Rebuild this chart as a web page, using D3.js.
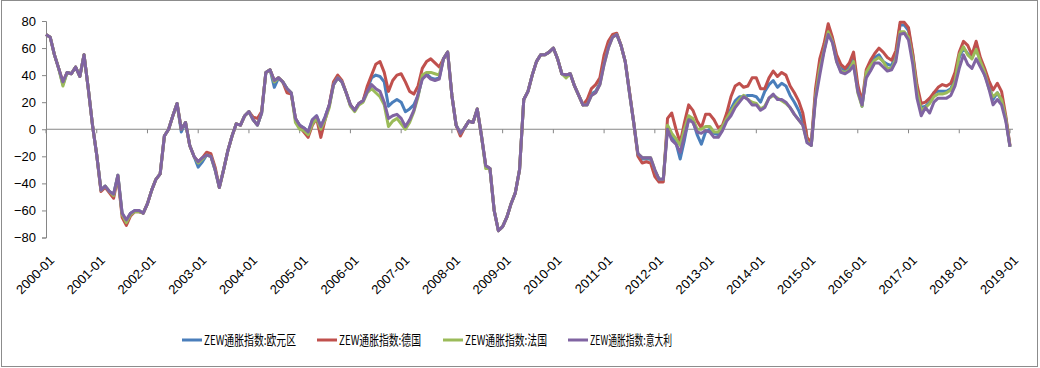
<!DOCTYPE html>
<html>
<head>
<meta charset="utf-8">
<style>
    body { margin: 0; background: #fff; }
    .axis text { font-family: 'Liberation Sans', Arial, sans-serif; font-size: 13px; fill: #000; }
    .axis path, .axis line { stroke: #868686; }
    .line { fill: none; stroke-width: 3px; stroke-linejoin: round; }
    .legend text { font-family: 'Noto Sans CJK SC', sans-serif; font-size: 13.5px; fill: #000; }
</style>
</head>
<body>
<svg id="chart" width="1040" height="368"></svg>
<script src="https://d3js.org/d3.v7.min.js"></script>
<script>
    // monthly 2000-01 .. 2019-01
    var xLabels = ['2000-01','2001-01','2002-01','2003-01','2004-01','2005-01','2006-01','2007-01','2008-01','2009-01',
                   '2010-01','2011-01','2012-01','2013-01','2014-01','2015-01','2016-01','2017-01','2018-01','2019-01'];
    var yTicks = [-80, -60, -40, -20, 0, 20, 40, 60, 80];
    var names = ['ZEW通胀指数:欧元区', 'ZEW通胀指数:德国', 'ZEW通胀指数:法国', 'ZEW通胀指数:意大利'];
    var colors = ['#4a7ebb', '#c0504d', '#9bbb59', '#8064a2'];

    var euro = [70,68,55,45,33,42,41,46,39,55, 30,3,-19,-45,-42,-46,-48,-34,-62,-68,
        -62,-60,-60,-62,-55,-45,-37,-33,-5,0, 10,19,-2,5,-12,-20,-28,-24,-19,-20,
        -30,-43,-30,-16,-5,4,3,10,13,7, 3,12,42,44,31,38,35,30,27,8,
        3,1,-2,7,10,2,9,18,33,38, 35,27,18,14,19,21,30,38,40,39,
        35,17,20,22,20,13,15,18,25,38, 41,38,37,38,52,57,25,3,-3,1,
        6,5,15,-5,-27,-29,-60,-75,-72,-65, -55,-47,-30,22,28,40,50,55,55,57,
        60,52,41,40,41,32,25,18,19,26, 28,34,50,62,69,70,62,50,27,5,
        -19,-22,-22,-22,-31,-37,-37,2,-5,-10, -22,-8,8,6,-4,-11,-2,0,-3,-4,
        1,8,15,21,24,24,25,25,24,20, 28,33,36,31,34,32,25,20,14,6,
        -9,-12,25,45,58,74,66,52,45,43, 46,53,30,17,40,48,53,55,50,48,
        47,55,77,77,73,55,30,16,17,20, 27,28,28,28,30,37,53,60,56,53,
        60,50,40,33,22,27,21,8,-13];
    var germany = [70,68,55,45,35,42,41,46,39,55, 30,3,-19,-46,-43,-47,-51,-35,-65,-71,
        -64,-61,-61,-62,-55,-45,-37,-33,-5,0, 10,19,0,5,-12,-20,-24,-21,-17,-18,
        -28,-43,-30,-16,-5,4,3,10,13,9, 8,13,42,44,36,38,35,27,26,8,
        2,-2,-6,3,8,-6,7,18,35,40, 36,27,18,14,19,21,32,40,48,50,
        42,28,36,40,41,35,28,26,32,45, 50,52,49,46,52,57,25,3,-5,1,
        6,5,15,-5,-27,-29,-60,-75,-72,-65, -55,-47,-30,22,28,40,50,55,55,57,
        60,52,41,40,41,32,25,18,22,30, 33,38,55,65,70,71,62,50,28,5,
        -20,-25,-24,-25,-35,-39,-39,8,12,0, -10,5,18,14,6,1,11,11,7,1,
        3,12,24,32,34,31,32,38,38,30, 30,38,43,39,42,40,32,27,21,12,
        -6,-10,30,52,63,78,68,55,48,45, 49,57,33,20,44,51,56,60,57,53,
        51,58,79,79,75,56,33,19,20,23, 27,31,33,32,34,42,57,65,62,55,
        65,53,45,36,29,34,28,10,-12];
    var france = [70,68,55,45,32,42,41,46,39,55, 30,3,-19,-45,-42,-46,-49,-34,-63,-69,
        -63,-61,-61,-62,-55,-45,-37,-33,-5,0, 10,19,0,5,-12,-20,-25,-22,-19,-20,
        -30,-43,-30,-16,-5,4,3,10,13,7, 3,12,42,44,35,38,35,30,27,5,
        0,-1,-4,4,8,0,7,16,33,38, 35,27,17,13,18,20,27,30,27,24,
        18,2,6,8,4,0,5,13,24,40, 42,42,41,40,52,57,25,3,-3,1,
        6,5,15,-5,-29,-29,-60,-75,-72,-65, -55,-47,-30,22,28,40,50,55,55,57,
        60,52,41,38,41,32,25,18,18,25, 27,33,48,60,68,70,62,50,27,5,
        -18,-21,-21,-21,-30,-37,-37,3,-3,-7, -12,0,10,8,0,0,2,2,-2,-2,
        2,8,13,18,22,25,22,20,19,15, 17,23,25,23,21,19,16,11,7,3,
        -9,-12,24,45,58,72,65,50,43,42, 44,50,27,17,42,47,51,53,50,45,
        45,52,72,72,68,52,28,14,16,19, 24,26,26,27,29,35,55,61,55,52,
        59,50,42,30,24,27,22,8,-13];
    var italy = [70,68,55,45,35,42,41,46,39,55, 30,3,-19,-45,-42,-46,-48,-34,-62,-67,
        -62,-60,-60,-62,-55,-45,-37,-33,-5,0, 10,19,0,5,-12,-20,-24,-21,-19,-20,
        -30,-43,-30,-16,-5,4,3,10,13,7, 3,12,42,44,36,38,35,30,27,8,
        3,1,-2,7,10,2,9,18,33,38, 35,27,18,14,19,21,28,33,30,28,
        20,8,10,11,8,2,7,14,26,37, 40,37,36,37,52,57,25,3,-3,1,
        6,5,15,-5,-27,-29,-60,-75,-72,-65, -55,-47,-30,22,28,40,50,55,55,57,
        60,52,41,40,41,32,25,18,18,25, 27,33,48,60,68,70,62,50,27,5,
        -18,-21,-21,-21,-30,-37,-37,0,-8,-11, -17,-5,7,5,-2,-3,-1,-2,-6,-6,
        -1,6,10,16,20,24,22,18,18,14, 16,23,26,22,22,20,16,11,7,3,
        -10,-12,22,40,57,70,64,50,42,41, 43,47,28,18,38,43,49,49,46,43,
        44,50,70,71,66,48,23,10,16,12, 20,23,23,23,25,32,45,55,48,45,
        52,46,40,30,18,22,18,6,-13];
    var seriesValues = [euro, germany, france, italy];

    var svg = d3.select('#chart');
    var x = d3.scaleLinear().domain([0, 228]).range([46, 1010]);
    var y = d3.scaleLinear().domain([-80, 80]).range([237.5, 21]);

    // outer frame
    svg.append('rect').attr('x', 1.5).attr('y', 0.5).attr('width', 1036).attr('height', 366)
        .attr('fill', 'none').attr('stroke', '#8c8c8c');

    // y axis
    var yAxis = d3.axisLeft(y).tickValues(yTicks).tickSize(4).tickPadding(6);
    svg.append('g').attr('class', 'axis')
        .attr('transform', 'translate(' + x(0) + ',0)')
        .call(yAxis);

    // zero line with yearly ticks
    var zero = svg.append('g').attr('class', 'axis');
    zero.append('line').attr('x1', x(0)).attr('x2', 1013)
        .attr('y1', y(0)).attr('y2', y(0));
    xLabels.forEach(function(lab, k) {
        var px = x(k * 12);
        zero.append('line').attr('x1', px).attr('x2', px)
            .attr('y1', y(0)).attr('y2', y(0) + 4);
        zero.append('text')
            .attr('transform', 'translate(' + (px + 6) + ',258) rotate(-45)')
            .style('text-anchor', 'end')
            .attr('dy', '0.35em')
            .text(lab);
    });

    // lines
    var line = d3.line()
        .x(function(d, i) { return x(i); })
        .y(function(d) { return y(d); });
    seriesValues.forEach(function(vals, s) {
        svg.append('path').datum(vals)
            .attr('class', 'line')
            .attr('stroke', colors[s])
            .attr('d', line);
    });

    // legend
    var legX = [182, 317, 443, 568];
    var legW = [92, 82, 82, 82];
    var legend = svg.append('g').attr('class', 'legend');
    names.forEach(function(n, s) {
        legend.append('line')
            .attr('x1', legX[s]).attr('x2', legX[s] + 20)
            .attr('y1', 340).attr('y2', 340)
            .attr('stroke', colors[s]).attr('stroke-width', 3);
        legend.append('text')
            .attr('x', legX[s] + 22).attr('y', 340).attr('dy', '0.35em')
            .attr('textLength', legW[s]).attr('lengthAdjust', 'spacingAndGlyphs')
            .text(n);
    });
</script>
</body>
</html>
